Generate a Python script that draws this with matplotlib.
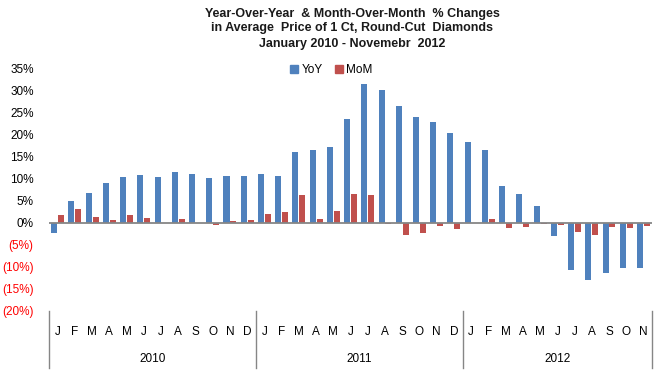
import numpy as np
import matplotlib
matplotlib.use("Agg")
import matplotlib.pyplot as plt
from matplotlib.patches import Patch

plt.rcParams.update({"font.family": ["Liberation Sans", "DejaVu Sans"]})
BLUE, RED, GRAY = "#4F81BD", "#C0504D", "#868686"

months = ["J", "F", "M", "A", "M", "J", "J", "A", "S", "O", "N", "D"] * 2 + \
         ["J", "F", "M", "A", "M", "J", "J", "A", "S", "O", "N"]
years = ["2010", "2011", "2012"]
yoy = [-2.3, 4.9, 6.7, 9.0, 10.3, 10.8, 10.3, 11.5, 11.0, 10.1, 10.6, 10.6,
       11.0, 10.6, 15.9, 16.4, 17.1, 23.4, 31.4, 30.0, 26.4, 23.9, 22.8, 20.3,
       18.2, 16.4, 8.2, 6.4, 3.7, -3.1, -10.8, -13.0, -11.5, -10.3, -10.3]
mom = [1.6, 3.1, 1.3, 0.6, 1.7, 1.1, -0.2, 0.8, 0.0, -0.45, 0.4, 0.6,
       1.9, 2.4, 6.3, 0.8, 2.6, 6.4, 6.2, -0.3, -2.8, -2.3, -0.8, -1.5,
       0.0, 0.75, -1.3, -1.05, -0.4, -0.6, -2.2, -2.9, -1.05, -1.3, -0.8]

fig = plt.figure(figsize=(6.58, 3.74), dpi=100)
ax = fig.add_axes([0.0745, 0.169, 0.9165, 0.649])
x = np.arange(len(yoy))
w = 0.35
ax.bar(x - 0.2, yoy, w, color=BLUE, label="YoY", zorder=2)
ax.bar(x + 0.2, mom, w, color=RED, label="MoM", zorder=2)
ax.axhline(0, color=GRAY, lw=1.3, zorder=3)

ax.set_xlim(-0.5, len(yoy) - 0.5)
ax.set_ylim(-20, 35)
for s in ax.spines.values():
    s.set_visible(False)

yt = np.arange(-20, 36, 5)
ax.set_yticks(yt)
ax.set_yticklabels([f"{v}%" if v >= 0 else f"({-v}%)" for v in yt], fontsize=8.5)
for lab, v in zip(ax.get_yticklabels(), yt):
    lab.set_color("black" if v >= 0 else "red")
ax.tick_params(axis="y", length=0, pad=11)

ax.set_xticks(x)
ax.set_xticklabels(months, fontsize=8.5)
ax.tick_params(axis="x", length=0, pad=11)

# year groups and separators below the axis
trans = ax.get_xaxis_transform()
for b in [-0.5, 11.5, 23.5, len(yoy) - 0.5]:
    ax.plot([b, b], [0, -0.235], color=GRAY, lw=1, transform=trans, clip_on=False)
starts = [0, 12, 24]
ends = [11, 23, len(yoy) - 1]
for yr, s0, e0 in zip(years, starts, ends):
    ax.text((s0 + e0) / 2, -0.2, yr, transform=trans, ha="center", va="center",
            fontsize=8.5)

handles = [Patch(color=BLUE, label="YoY"), Patch(color=RED, label="MoM")]
ax.legend(handles=handles, loc="center", bbox_to_anchor=(0.468, 0.99), ncol=2,
          frameon=False, fontsize=8.5, handlelength=0.7, handleheight=0.7,
          handletextpad=0.3, columnspacing=1.0)

titles = ["Year-Over-Year  & Month-Over-Month  % Changes",
          "in Average  Price of 1 Ct, Round-Cut  Diamonds",
          "January 2010 - Novemebr  2012"]
for i, t in enumerate(titles):
    fig.text(0.535, 1 - (13.5 + i * 15) / 374, t, ha="center", va="center",
             fontsize=9, fontweight="bold", color="#1a1a1a")

fig.savefig("out.png", dpi=100)
